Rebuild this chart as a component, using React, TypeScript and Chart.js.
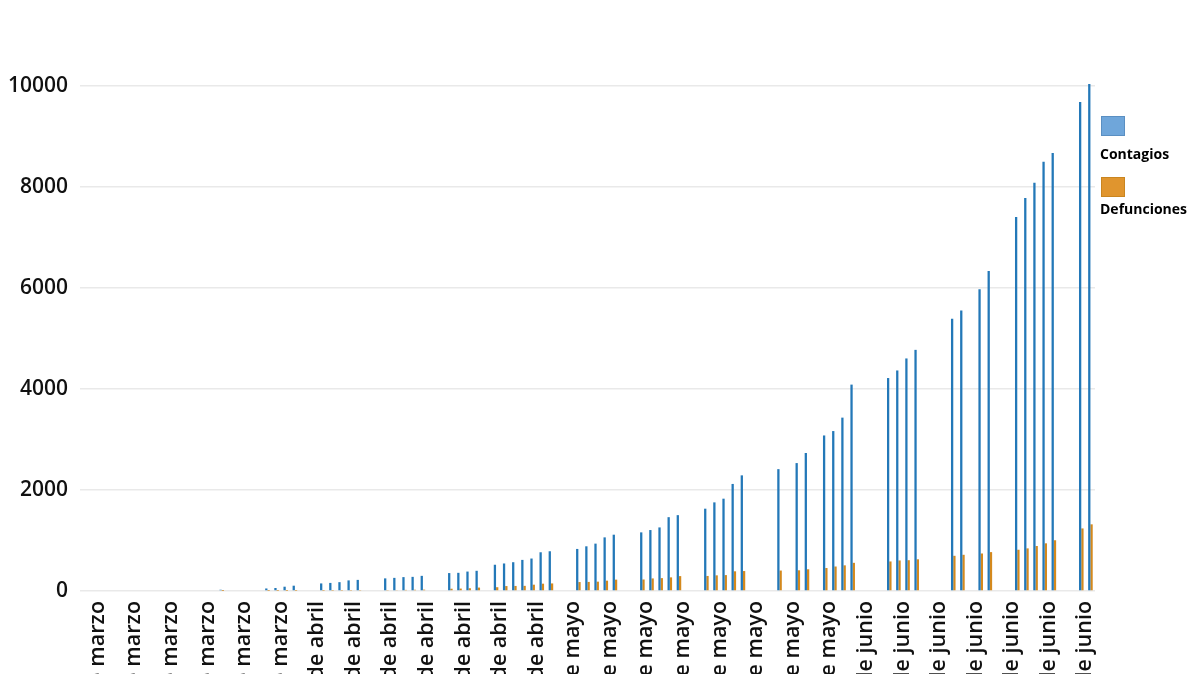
import React, { useEffect, useRef } from "react";
import { Chart, registerables } from "chart.js";
Chart.register(...registerables);

// Daily categories: 10 de marzo .. 28 de junio
const categories: string[] = [
  "10 de marzo", "11 de marzo", "12 de marzo", "13 de marzo", "14 de marzo", "15 de marzo", "16 de marzo",
  "17 de marzo", "18 de marzo", "19 de marzo", "20 de marzo", "21 de marzo", "22 de marzo", "23 de marzo",
  "24 de marzo", "25 de marzo", "26 de marzo", "27 de marzo", "28 de marzo", "29 de marzo", "30 de marzo",
  "31 de marzo",
  "1 de abril", "2 de abril", "3 de abril", "4 de abril", "5 de abril", "6 de abril", "7 de abril",
  "8 de abril", "9 de abril", "10 de abril", "11 de abril", "12 de abril", "13 de abril", "14 de abril",
  "15 de abril", "16 de abril", "17 de abril", "18 de abril", "19 de abril", "20 de abril", "21 de abril",
  "22 de abril", "23 de abril", "24 de abril", "25 de abril", "26 de abril", "27 de abril", "28 de abril",
  "29 de abril", "30 de abril",
  "1 de mayo", "2 de mayo", "3 de mayo", "4 de mayo", "5 de mayo", "6 de mayo", "7 de mayo",
  "8 de mayo", "9 de mayo", "10 de mayo", "11 de mayo", "12 de mayo", "13 de mayo", "14 de mayo",
  "15 de mayo", "16 de mayo", "17 de mayo", "18 de mayo", "19 de mayo", "20 de mayo", "21 de mayo",
  "22 de mayo", "23 de mayo", "24 de mayo", "25 de mayo", "26 de mayo", "27 de mayo", "28 de mayo",
  "29 de mayo", "30 de mayo", "31 de mayo",
  "1 de junio", "2 de junio", "3 de junio", "4 de junio", "5 de junio", "6 de junio", "7 de junio",
  "8 de junio", "9 de junio", "10 de junio", "11 de junio", "12 de junio", "13 de junio", "14 de junio",
  "15 de junio", "16 de junio", "17 de junio", "18 de junio", "19 de junio", "20 de junio", "21 de junio",
  "22 de junio", "23 de junio", "24 de junio", "25 de junio", "26 de junio", "27 de junio", "28 de junio",
];

// Tick labels shown on the x axis
const tickLabels: string[] = [
  "11 de marzo", "15 de marzo", "19 de marzo", "23 de marzo", "27 de marzo", "31 de marzo",
  "4 de abril", "8 de abril", "12 de abril", "16 de abril", "20 de abril", "24 de abril", "28 de abril",
  "2 de mayo", "6 de mayo", "10 de mayo", "14 de mayo", "18 de mayo", "22 de mayo", "26 de mayo", "30 de mayo",
  "3 de junio", "7 de junio", "11 de junio", "15 de junio", "19 de junio", "23 de junio", "27 de junio",
];

const contagios: (number | null)[] = [
  null, null, null, null, null, null, null, null, null, null,
  null, null, null, null, null, 25, null, null, null, null,
  50, 60, 85, 105, null, null, 150, 160, 175, 210,
  220, null, null, 250, 260, 275, 280, 300, null, null,
  355, 360, 385, 400, null, 520, 545, 570, 616, 643,
  767, 787, null, null, 833, 885, 938, 1062, 1115, null,
  null, 1161, 1207, 1259, 1462, 1502, null, null, 1630, 1755,
  1828, 2120, 2290, null, null, null, 2413, null, 2533, 2733,
  null, 3080, 3167, 3433, 4087, null, null, null, 4217, 4367,
  4605, 4775, null, null, null, 5392, 5553, null, 5975, 6336,
  null, null, 7408, 7783, 8084, 8500, 8674, null, null, 9685,
  10040,
];

const defunciones: (number | null)[] = [
  null, null, null, null, null, null, null, null, null, null,
  null, null, null, null, null, 1, null, null, null, null,
  2, 3, 3, 4, null, null, 5, 6, 7, 8,
  9, null, null, 10, 12, 22, 25, 27, null, null,
  45, 48, 55, 68, null, 75, 98, 100, 102, 125,
  145, 150, null, null, 177, 180, 185, 205, 225, null,
  null, 228, 249, 255, 270, 295, null, null, 298, 310,
  315, 390, 395, null, null, null, 405, null, 410, 430,
  null, 455, 485, 508, 558, null, null, null, 585, 605,
  610, 628, null, null, null, 697, 717, null, 743, 770,
  null, null, 817, 844, 891, 944, 1005, null, null, 1239,
  1320,
];

const seriesNames = ["Contagios", "Defunciones"];
const barColors = ["#2378b8", "#d4891d"];
const legendColors = ["#6fa6da", "#e0952e"];
const legendBorders = ["#5a8fc2", "#c98520"];

const FONT = "'Open Sans', 'Noto Sans', sans-serif";

export default function App() {
  const canvasRef = useRef<HTMLCanvasElement | null>(null);

  useEffect(() => {
    if (!canvasRef.current) return;
    const chart = new Chart(canvasRef.current, {
      type: "bar",
      data: {
        labels: categories,
        datasets: [
          {
            label: seriesNames[0],
            data: contagios,
            backgroundColor: barColors[0],
            borderWidth: 0,
            categoryPercentage: 0.5,
            barPercentage: 1,
            clip: false,
          },
          {
            label: seriesNames[1],
            data: defunciones,
            backgroundColor: barColors[1],
            borderWidth: 0,
            categoryPercentage: 0.5,
            barPercentage: 1,
          },
        ],
      },
      options: {
        animation: false,
        responsive: true,
        maintainAspectRatio: false,
        layout: { padding: { top: 86, right: 105, left: 0, bottom: 0 } },
        plugins: {
          legend: { display: false },
          tooltip: { enabled: false },
        },
        scales: {
          x: {
            grid: { display: false, drawTicks: false },
            border: { display: false },
            ticks: {
              autoSkip: false,
              minRotation: 90,
              maxRotation: 90,
              padding: 10,
              labelOffset: 4,
              color: "#111111",
              font: { family: FONT, size: 21.5, weight: "600" },
              callback: function (_v: any, idx: number) {
                const lab = categories[idx];
                return tickLabels.includes(lab) ? lab : "";
              },
            },
            afterFit: (scale: any) => {
              scale.height = 83;
            },
          },
          y: {
            min: 0,
            max: 10000,
            grid: { color: "#e9e9e9", lineWidth: 1.5, drawTicks: false },
            border: { display: false },
            ticks: {
              stepSize: 2000,
              padding: 12,
              color: "#111111",
              font: { family: FONT, size: 21, weight: "600" },
              callback: (v: any) => String(v),
            },
            afterFit: (scale: any) => {
              scale.width = 80;
            },
          },
        },
      },
    });
    return () => chart.destroy();
  }, []);

  const legendItem = (i: number, boxTop: number, textTop: number) => (
    <React.Fragment key={i}>
      <div
        style={{
          position: "absolute",
          left: 1101,
          top: boxTop,
          width: 22,
          height: 18,
          background: legendColors[i],
          border: `1px solid ${legendBorders[i]}`,
        }}
      />
      <div
        style={{
          position: "absolute",
          left: 1100,
          top: textTop,
          fontFamily: FONT,
          fontWeight: 700,
          fontSize: 14,
          color: "#000",
          whiteSpace: "nowrap",
        }}
      >
        {seriesNames[i]}
      </div>
    </React.Fragment>
  );

  return (
    <div
      style={{
        position: "absolute",
        left: 0,
        top: 0,
        width: 1200,
        height: 674,
        overflow: "hidden",
        background: "#ffffff",
      }}
    >
      <div style={{ position: "absolute", left: 0, top: 0, width: 1200, height: 674 }}>
        <canvas ref={canvasRef} />
      </div>
      {legendItem(0, 116, 144)}
      {legendItem(1, 177, 199)}
    </div>
  );
}
